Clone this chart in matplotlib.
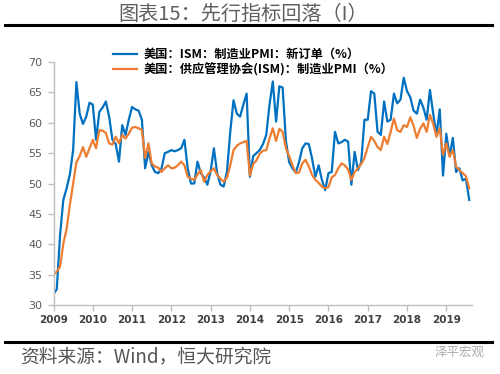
import matplotlib
matplotlib.use("Agg")
import matplotlib.pyplot as plt
import numpy as np

plt.rcParams['font.family'] = ['Noto Sans CJK SC', 'DejaVu Sans']

years = ['2009', '2010', '2011', '2012', '2013', '2014', '2015', '2016', '2017', '2018', '2019']

new_orders = [
    31.8, 32.6, 41.5, 47.3, 49.2, 51.5, 55.5, 66.7, 61.5, 59.8, 61.0, 63.3,   # 2009
    63.0, 57.2, 61.8, 62.5, 63.5, 61.0, 57.2, 56.5, 53.6, 59.6, 58.0, 60.5,   # 2010
    62.6, 62.2, 62.0, 60.5, 52.5, 55.2, 53.0, 51.9, 51.7, 52.5, 55.0, 55.2,   # 2011
    55.5, 55.3, 55.5, 55.8, 57.2, 52.5, 50.0, 50.0, 53.6, 51.7, 51.0, 49.8,   # 2012
    52.0, 55.8, 51.7, 49.8, 49.5, 52.0, 58.5, 63.7, 61.5, 61.0, 63.0, 64.8,   # 2013
    51.1, 54.5, 55.0, 55.5, 56.5, 58.0, 63.0, 66.8, 60.2, 66.0, 65.8, 57.0,   # 2014
    53.5, 52.5, 51.8, 53.5, 55.8, 56.6, 56.5, 54.1, 51.1, 53.0, 50.6, 48.9,   # 2015
    51.7, 51.9, 58.5, 56.6, 56.8, 57.2, 56.9, 49.8, 55.2, 52.2, 53.5, 60.5,   # 2016
    60.5, 65.2, 64.8, 58.5, 58.0, 63.5, 60.2, 60.5, 64.8, 63.2, 63.8, 67.4,   # 2017
    65.2, 64.2, 62.0, 61.5, 63.8, 62.5, 60.5, 65.4, 61.5, 58.0, 62.2, 51.3,   # 2018
    58.2, 54.5, 57.5, 51.9, 52.5, 50.5, 50.8, 47.3,                           # 2019
]

pmi = [
    35.0, 35.5, 36.3, 40.1, 42.5, 46.5, 50.0, 53.5, 54.5, 56.0, 54.4, 55.8,   # 2009
    57.2, 55.8, 58.8, 58.7, 58.3, 56.6, 56.4, 57.7, 56.6, 58.0, 57.4, 58.2,   # 2010
    59.2, 59.3, 59.1, 58.8, 54.2, 56.6, 53.3, 52.8, 52.6, 51.9, 52.5, 53.0,   # 2011
    52.5, 52.6, 53.0, 53.6, 53.0, 51.1, 50.8, 50.6, 51.5, 52.2, 50.3, 51.4,   # 2012
    52.0, 52.5, 51.4, 50.8, 50.3, 51.0, 53.0, 55.5, 56.2, 56.6, 56.8, 57.0,   # 2013
    51.3, 53.2, 53.8, 54.9, 55.4, 55.5, 57.4, 59.1, 57.0, 59.0, 58.5, 55.8,   # 2014
    54.5, 53.0, 51.7, 51.8, 53.3, 53.9, 52.8, 51.4, 50.6, 50.1, 49.5, 49.2,   # 2015
    49.4, 51.0, 51.4, 52.5, 53.3, 53.0, 52.3, 50.6, 51.9, 52.5, 53.2, 54.2,   # 2016
    56.0, 57.7, 57.0, 56.0, 55.5, 57.7, 56.5, 58.5, 60.7, 58.8, 58.5, 59.6,   # 2017
    59.3, 60.9, 59.5, 57.5, 59.0, 59.9, 58.5, 61.3, 59.8, 57.7, 59.1, 54.7,   # 2018
    56.6, 54.4, 55.5, 52.8, 52.2, 51.7, 51.2, 49.2,                           # 2019
]

labels = ['美国：ISM：制造业PMI：新订单（%）', '美国：供应管理协会(ISM)：制造业PMI（%）']
title = '图表15：先行指标回落（I）'
source = '资料来源：Wind，恒大研究院'

BLUE = '#0070C0'
ORANGE = '#ED7D31'

fig = plt.figure(figsize=(5.0, 3.74), dpi=100)
ax = fig.add_axes([0.107, 0.1845, 0.836, 0.6497])

x = np.arange(len(pmi))
l1, = ax.plot(x, new_orders, color=BLUE, lw=1.6, solid_joinstyle='round')
l2, = ax.plot(x, pmi, color=ORANGE, lw=1.6, solid_joinstyle='round')

ax.set_ylim(30, 70)
ax.set_yticks(np.arange(30, 71, 5))
ax.set_xlim(0, 127.7)
ax.set_xticks(np.arange(len(years)) * 12)
ax.set_xticklabels(years, fontweight='bold', color='#404040', fontsize=7.5,
                   family=['DejaVu Sans'])
for t in ax.get_yticklabels():
    t.set_color('#595959')
    t.set_fontsize(8)
    t.set_family(['DejaVu Sans'])

for s in ['top', 'right']:
    ax.spines[s].set_visible(False)
for s in ['left', 'bottom']:
    ax.spines[s].set_color('#BFBFBF')
    ax.spines[s].set_linewidth(1.0)
ax.tick_params(axis='both', which='both', color='#BFBFBF', length=4, width=1, direction='out')
ax.tick_params(axis='y', pad=4)
ax.tick_params(axis='x', pad=3)

leg = fig.legend([l1, l2], labels, loc='upper left', bbox_to_anchor=(0.226, 0.872),
                 frameon=False, handlelength=2.0, handletextpad=0.5, labelspacing=0.15,
                 prop={'family': ['Noto Sans CJK SC'], 'weight': 'bold', 'size': 8.8},
                 borderaxespad=0, borderpad=0)

fig.text(0.486, 0.962, title, ha='center', va='center', fontsize=14.5, color='#606060')
fig.add_artist(plt.Line2D([0.01, 0.984], [0.933, 0.933], color='black', lw=2.2,
                          transform=fig.transFigure))
fig.add_artist(plt.Line2D([0.01, 0.984], [0.086, 0.086], color='black', lw=2.2,
                          transform=fig.transFigure))
fig.text(0.04, 0.045, source, ha='left', va='center', fontsize=13.5, color='#555555',
         style='italic')
fig.text(0.97, 0.058, '泽平宏观', ha='right', va='center', fontsize=9, color='#AAAAAA')

fig.savefig('out.png', dpi=100)
